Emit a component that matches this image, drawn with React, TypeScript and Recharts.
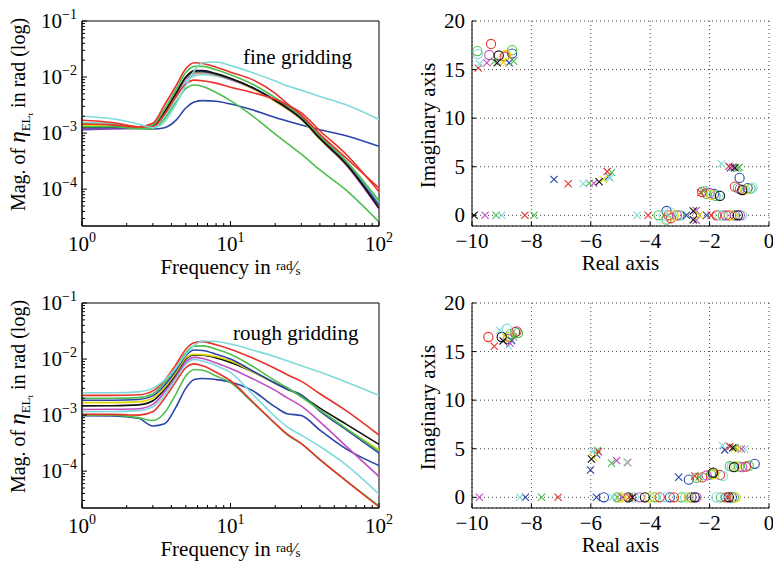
import React from 'react';
import {
  LineChart,
  Line,
  XAxis,
  YAxis,
  ReferenceArea,
  ScatterChart,
  Scatter,
  CartesianGrid,
} from 'recharts';

const SERIF = '"Liberation Serif", "Times New Roman", Times, serif';

// MATLAB-ish colour order, one letter per system
const CLR: Record<string, string> = {
  b: '#2a44aa',
  g: '#4cbf4c',
  r: '#e8322a',
  c: '#7fdada',
  m: '#c24cc2',
  y: '#e3d600',
  k: '#111111',
};
const sysOrder = ['b', 'g', 'r', 'c', 'm', 'y', 'k'];

// ---------- Bode magnitude data ----------
const freq = [1, 1.6, 2.4, 3, 3.6, 4.3, 5, 5.7, 6.5, 8, 10, 14, 20, 24, 30, 40, 60, 100];

// fine gridding
const fineC1 = [2.0e-3, 1.8e-3, 1.45e-3, 1.25e-3, 1.6e-3, 3.3e-3, 7e-3, 1.3e-2, 1.8e-2, 1.85e-2, 1.6e-2, 1.2e-2, 8.5e-3, 7e-3, 5.8e-3, 4.5e-3, 3.2e-3, 1.75e-3];
const fineB1 = [1.15e-3, 1.2e-3, 1.22e-3, 1.18e-3, 1.25e-3, 1.7e-3, 2.8e-3, 3.6e-3, 3.8e-3, 3.7e-3, 3.3e-3, 2.6e-3, 1.9e-3, 1.65e-3, 1.4e-3, 1.15e-3, 9e-4, 5.8e-4];
const fineR1 = [1.7e-3, 1.55e-3, 1.3e-3, 1.5e-3, 3.2e-3, 7e-3, 1.4e-2, 1.8e-2, 1.75e-2, 1.5e-2, 1.22e-2, 9e-3, 5.1e-3, 3.4e-3, 2.1e-3, 9.6e-4, 3.6e-4, 1.04e-4];
const fineR2 = [1.45e-3, 1.4e-3, 1.25e-3, 1.3e-3, 2.2e-3, 4.5e-3, 7.5e-3, 8.8e-3, 8.6e-3, 7.8e-3, 6.6e-3, 5.3e-3, 4.0e-3, 3.2e-3, 2.3e-3, 1.1e-3, 4.2e-4, 9e-5];
const fineG1 = [1.3e-3, 1.3e-3, 1.2e-3, 1.2e-3, 1.8e-3, 3.6e-3, 6.2e-3, 7.2e-3, 6.8e-3, 5.3e-3, 3.8e-3, 2.05e-3, 9.6e-4, 6.6e-4, 4.2e-4, 2.2e-4, 9.6e-5, 2.6e-5];
const fineG2 = [1.45e-3, 1.4e-3, 1.25e-3, 1.4e-3, 2.7e-3, 6e-3, 1.2e-2, 1.55e-2, 1.55e-2, 1.35e-2, 1.1e-2, 7.5e-3, 4.3e-3, 3.1e-3, 2e-3, 9e-4, 3.2e-4, 6.2e-5];
const fineK = [1.3e-3, 1.3e-3, 1.25e-3, 1.35e-3, 2.4e-3, 5.2e-3, 1e-2, 1.3e-2, 1.3e-2, 1.15e-2, 9.5e-3, 6.5e-3, 3.8e-3, 2.8e-3, 1.8e-3, 8e-4, 2.8e-4, 4.6e-5];
const fineB2 = [1.25e-3, 1.25e-3, 1.22e-3, 1.32e-3, 2.3e-3, 5e-3, 9.8e-3, 1.25e-2, 1.25e-2, 1.12e-2, 9.3e-3, 6.5e-3, 3.9e-3, 2.9e-3, 1.85e-3, 8.3e-4, 2.9e-4, 5.2e-5];
const fineM = [1.2e-3, 1.2e-3, 1.2e-3, 1.3e-3, 2.2e-3, 4.8e-3, 9.2e-3, 1.15e-2, 1.2e-2, 1.1e-2, 9e-3, 6.3e-3, 3.7e-3, 2.7e-3, 1.75e-3, 7.8e-4, 2.7e-4, 4.4e-5];
const fineY = [1.35e-3, 1.33e-3, 1.27e-3, 1.35e-3, 2.3e-3, 5e-3, 9.6e-3, 1.2e-2, 1.22e-2, 1.1e-2, 9.2e-3, 6.3e-3, 3.7e-3, 2.7e-3, 1.75e-3, 7.8e-4, 2.8e-4, 4.8e-5];
const fineC2 = [1.55e-3, 1.5e-3, 1.3e-3, 1.3e-3, 2e-3, 4.2e-3, 8.2e-3, 1.05e-2, 1.1e-2, 1.05e-2, 9e-3, 6.5e-3, 3.9e-3, 2.9e-3, 1.9e-3, 8.5e-4, 3e-4, 5.5e-5];

// rough gridding
const roughC1 = [2.5e-3, 2.5e-3, 2.6e-3, 3.0e-3, 4.2e-3, 7e-3, 1.2e-2, 1.75e-2, 2.1e-2, 2.05e-2, 1.85e-2, 1.45e-2, 1.1e-2, 9.3e-3, 7.6e-3, 5.9e-3, 3.9e-3, 2.25e-3];
const roughR1 = [2.25e-3, 2.25e-3, 2.3e-3, 2.7e-3, 4.2e-3, 8e-3, 1.5e-2, 1.95e-2, 2.05e-2, 1.8e-2, 1.5e-2, 1.05e-2, 6.8e-3, 5.3e-3, 4e-3, 2.4e-3, 1.2e-3, 4.4e-4];
const roughG1 = [2.0e-3, 2.0e-3, 2.05e-3, 2.4e-3, 3.8e-3, 7e-3, 1.3e-2, 1.7e-2, 1.72e-2, 1.5e-2, 1.22e-2, 7.5e-3, 4.1e-3, 3.1e-3, 2.1e-3, 1.23e-3, 5.8e-4, 2.25e-4];
const roughB1 = [1.84e-3, 1.84e-3, 1.9e-3, 2.2e-3, 3.4e-3, 6.3e-3, 1.15e-2, 1.45e-2, 1.42e-2, 1.22e-2, 1e-2, 6.2e-3, 3.7e-3, 2.9e-3, 2.3e-3, 1.18e-3, 5.5e-4, 2.1e-4];
const roughY = [1.67e-3, 1.67e-3, 1.72e-3, 2e-3, 3.1e-3, 5.8e-3, 1.05e-2, 1.22e-2, 1.2e-2, 1.1e-2, 9.3e-3, 6e-3, 3.7e-3, 2.9e-3, 2.3e-3, 1.2e-3, 5.7e-4, 2.4e-4];
const roughK = [1.46e-3, 1.47e-3, 1.52e-3, 1.8e-3, 2.9e-3, 5.5e-3, 1e-2, 1.18e-2, 1.17e-2, 1.05e-2, 8.7e-3, 6e-3, 3.7e-3, 2.95e-3, 2.2e-3, 1.33e-3, 6.9e-4, 3e-4];
const roughM = [1.26e-3, 1.27e-3, 1.3e-3, 1.55e-3, 2.6e-3, 5e-3, 8.8e-3, 1.07e-2, 1.02e-2, 8.5e-3, 6.8e-3, 4.5e-3, 2.76e-3, 2.05e-3, 1.44e-3, 7.6e-4, 2.8e-4, 8e-5];
const roughC2 = [1.15e-3, 1.16e-3, 1.2e-3, 1.4e-3, 2.3e-3, 4.5e-3, 8e-3, 9.8e-3, 9.2e-3, 7.6e-3, 5.8e-3, 2.4e-3, 9.4e-4, 6.2e-4, 4.4e-4, 2.75e-4, 1.3e-4, 3.9e-5];
const roughR2 = [1.03e-3, 1.03e-3, 1.0e-3, 1.15e-3, 2e-3, 4e-3, 7e-3, 8.2e-3, 7.6e-3, 5.8e-3, 4.1e-3, 1.76e-3, 7.1e-4, 4.6e-4, 3.1e-4, 1.6e-4, 6.7e-5, 2.3e-5];
const roughG2 = [1e-3, 1e-3, 9e-4, 8e-4, 1.1e-3, 2.4e-3, 5e-3, 6.5e-3, 6.3e-3, 5e-3, 3.8e-3, 1.7e-3, 7e-4, 4.5e-4, 3.1e-4, 1.6e-4, 6.8e-5, 2.4e-5];
const roughB2 = [9.8e-4, 9.7e-4, 8.8e-4, 6.4e-4, 7e-4, 1.4e-3, 3e-3, 4.3e-3, 4.5e-3, 4.3e-3, 3.9e-3, 2.76e-3, 1.4e-3, 1.06e-3, 9.8e-4, 5.4e-4, 2.5e-4, 1.26e-4];

// ---------- pole / zero data: [real, imag, system] ----------
type PZ = [number, number, string];

const finePoles: PZ[] = [
  [-9.79, 15.15, 'r'], [-9.75, 15.6, 'c'], [-9.5, 15.7, 'm'], [-9.25, 15.85, 'g'],
  [-9.15, 15.7, 'k'], [-8.95, 15.75, 'y'], [-8.75, 15.7, 'b'], [-8.6, 15.85, 'g'],
  [-7.24, 3.7, 'b'], [-6.76, 3.25, 'r'], [-6.26, 3.25, 'c'], [-6.05, 3.3, 'g'],
  [-5.9, 3.3, 'm'], [-5.72, 3.45, 'k'], [-5.58, 3.7, 'y'], [-5.4, 4.0, 'b'],
  [-5.35, 3.85, 'c'], [-5.45, 4.5, 'r'], [-5.3, 4.4, 'g'],
  [-9.93, 0, 'k'], [-9.56, 0, 'm'], [-9.19, 0, 'g'], [-9.0, 0, 'c'], [-8.22, 0, 'r'], [-7.91, 0, 'g'],
  [-4.44, 0, 'c'], [-4.07, 0, 'r'],
  [-2.78, 0, 'b'], [-2.55, 0.45, 'k'], [-2.55, -0.45, 'k'], [-2.45, 0.5, 'm'], [-2.45, -0.5, 'm'],
  [-2.35, 0, 'y'], [-2.1, 0, 'b'], [-1.95, 0, 'r'],
  [-2.3, 2.35, 'r'], [-2.2, 2.5, 'g'],
  [-1.6, 5.3, 'c'], [-1.35, 5.05, 'r'], [-1.3, 4.9, 'b'], [-1.22, 4.95, 'm'],
  [-1.15, 4.9, 'k'], [-1.05, 4.85, 'g'], [-1.0, 4.95, 'g'],
];

const fineZeros: PZ[] = [
  [-9.82, 16.9, 'g'], [-9.8, 16.6, 'c'], [-9.36, 17.64, 'r'], [-9.42, 16.5, 'm'],
  [-9.1, 16.45, 'k'], [-8.85, 16.5, 'y'], [-8.9, 16.35, 'r'], [-8.65, 16.65, 'b'], [-8.65, 17.0, 'g'],
  [-3.72, 0, 'g'], [-3.55, 0, 'c'], [-3.45, 0.45, 'b'], [-3.45, -0.45, 'g'], [-3.38, 0, 'r'],
  [-3.32, 0.3, 'c'], [-3.3, -0.3, 'r'], [-3.2, 0, 'y'], [-3.1, 0, 'm'], [-3.02, 0, 'g'], [-2.95, 0, 'c'],
  [-1.77, 0, 'r'], [-1.66, 0, 'c'], [-1.55, 0, 'g'], [-1.45, 0, 'm'], [-1.35, 0, 'r'],
  [-1.25, 0, 'y'], [-1.15, 0, 'b'], [-1.05, 0, 'k'], [-0.98, 0, 'm'], [-0.9, 0, 'c'],
  [-2.25, 2.4, 'r'], [-2.15, 2.5, 'c'], [-2.1, 2.2, 'g'], [-2.0, 2.3, 'm'], [-1.95, 2.1, 'y'],
  [-1.85, 2.2, 'b'], [-1.8, 2.0, 'g'], [-1.7, 2.1, 'c'], [-1.65, 2.0, 'k'],
  [-1.15, 2.95, 'r'], [-1.05, 2.8, 'g'], [-0.98, 2.7, 'm'], [-0.9, 2.6, 'k'], [-0.8, 2.65, 'y'],
  [-0.72, 2.8, 'b'], [-0.62, 2.75, 'g'], [-0.55, 2.85, 'c'], [-0.99, 3.85, 'b'],
];

const roughPoles: PZ[] = [
  [-9.25, 15.55, 'r'], [-9.06, 17.2, 'c'], [-8.95, 16.1, 'k'], [-8.78, 15.6, 'c'],
  [-8.72, 15.85, 'm'], [-8.67, 16.15, 'b'], [-8.85, 16.4, 'y'], [-8.6, 16.5, 'g'],
  [-6.01, 2.82, 'b'], [-5.98, 3.95, 'k'], [-5.92, 4.12, 'y'], [-5.92, 4.74, 'c'],
  [-5.78, 4.81, 'g'], [-5.75, 4.7, 'r'], [-5.8, 4.4, 'b'], [-5.3, 3.5, 'g'],
  [-5.13, 3.78, 'm'], [-4.78, 3.61, 'c'], [-4.76, 3.58, 'r'],
  [-9.75, 0, 'm'], [-8.39, 0, 'c'], [-8.2, 0, 'b'], [-7.66, 0, 'g'], [-7.1, 0, 'r'], [-5.81, 0, 'b'],
  [-5.28, 0, 'c'], [-5.1, 0, 'g'], [-4.95, 0, 'm'], [-4.85, 0, 'y'], [-4.7, 0, 'r'], [-4.6, 0, 'k'],
  [-1.5, 0, 'c'], [-1.4, 0, 'r'],
  [-3.04, 2.06, 'b'], [-2.5, 2.2, 'r'], [-2.35, 2.1, 'g'],
  [-1.57, 5.33, 'c'], [-1.49, 4.88, 'b'], [-1.32, 5.22, 'r'], [-1.22, 5.1, 'k'],
  [-1.15, 5.09, 'g'], [-1.05, 5.0, 'y'], [-0.93, 4.98, 'm'], [-0.82, 4.98, 'c'],
];

const roughZeros: PZ[] = [
  [-9.45, 16.5, 'r'], [-9.0, 16.5, 'k'], [-8.83, 17.35, 'c'], [-8.78, 16.5, 'y'],
  [-8.8, 16.3, 'm'], [-8.5, 17.08, 'r'], [-8.45, 16.9, 'g'], [-8.55, 17.0, 'b'], [-8.7, 16.8, 'g'],
  [-5.56, 0, 'b'], [-5.11, 0, 'g'], [-4.98, 0, 'y'], [-4.74, 0, 'k'], [-4.55, 0, 'c'],
  [-4.35, 0, 'm'], [-4.18, 0, 'k'], [-4.02, 0, 'y'], [-3.85, 0, 'g'], [-3.68, 0, 'r'],
  [-3.51, 0, 'c'], [-3.34, 0, 'b'], [-3.2, 0, 'r'], [-2.95, 0, 'g'], [-2.82, 0, 'c'],
  [-2.7, 0, 'y'], [-2.61, 0, 'b'], [-2.5, 0, 'k'], [-2.44, 0, 'm'],
  [-1.77, 0, 'c'], [-1.62, 0, 'g'], [-1.45, 0, 'r'], [-1.35, 0, 'k'], [-1.25, 0, 'b'],
  [-1.18, 0, 'g'], [-1.12, 0, 'y'],
  [-2.7, 1.82, 'b'], [-2.44, 2.0, 'g'], [-2.25, 2.05, 'r'], [-2.1, 2.25, 'm'], [-1.95, 2.35, 'g'],
  [-1.88, 2.55, 'k'], [-1.85, 2.4, 'y'], [-1.9, 2.45, 'b'], [-1.65, 2.3, 'r'], [-1.55, 2.2, 'c'],
  [-1.32, 3.2, 'g'], [-1.25, 3.15, 'c'], [-1.18, 3.1, 'k'], [-1.12, 3.2, 'y'], [-1.0, 3.15, 'g'],
  [-0.9, 3.1, 'm'], [-0.78, 3.15, 'r'], [-0.68, 3.25, 'g'], [-0.48, 3.45, 'b'],
];

// ---------- axes ----------
const MAG_MIN = 2.2e-5;
const MAG_MAX = 0.1;
const freqDecades = [1, 10, 100];
const magDecades = [1e-4, 1e-3, 1e-2, 1e-1];
const reTicks = [-10, -8, -6, -4, -2, 0];
const imTicks = [0, 5, 10, 15, 20];

// decade ticks plus the 2..9 minors that MATLAB draws between them
const withMinors = (decades: number[], lo: number, hi: number) => {
  const out: number[] = [];
  const e0 = Math.floor(Math.log10(lo));
  const e1 = Math.ceil(Math.log10(hi));
  for (let e = e0; e <= e1; e++) {
    for (let m = 1; m < 10; m++) {
      const v = Number((m * Math.pow(10, e)).toPrecision(6));
      if (v >= lo * 0.999 && v <= hi * 1.001) out.push(v);
    }
  }
  return Array.from(new Set([...out, ...decades])).sort((a, b) => a - b);
};
const freqTicks = withMinors(freqDecades, 1, 100);
const magTicks = withMinors(magDecades, MAG_MIN, MAG_MAX);

const isDecade = (v: number) => {
  const l = Math.log10(v);
  return Math.abs(l - Math.round(l)) < 1e-6;
};
const minus = (n: number) => (n < 0 ? '\u2212' + Math.abs(n) : String(n));

function LogXTick({ x, y, payload }: any) {
  const major = isDecade(payload.value);
  const e = Math.round(Math.log10(payload.value));
  return (
    <g>
      <line x1={x} x2={x} y1={y} y2={y - (major ? 5 : 3)} stroke="#000" />
      {major && (
        <text x={x} y={y + 25} textAnchor="middle" fontFamily={SERIF} fontSize={21} fill="#000">
          10<tspan dy={-9} fontSize={14}>{minus(e)}</tspan>
        </text>
      )}
    </g>
  );
}

function LogYTick({ x, y, payload }: any) {
  const major = isDecade(payload.value);
  const e = Math.round(Math.log10(payload.value));
  return (
    <g>
      <line x1={x} x2={x + (major ? 5 : 3)} y1={y} y2={y} stroke="#000" />
      {major && (
        <text x={x - 5} y={y + 7} textAnchor="end" fontFamily={SERIF} fontSize={21} fill="#000">
          10<tspan dy={-9} fontSize={14}>{minus(e)}</tspan>
        </text>
      )}
    </g>
  );
}

function LinXTick({ x, y, payload }: any) {
  return (
    <g>
      <line x1={x} x2={x} y1={y} y2={y - 4} stroke="#000" />
      <text x={x} y={y + 22} textAnchor="middle" fontFamily={SERIF} fontSize={21} fill="#000">
        {minus(payload.value)}
      </text>
    </g>
  );
}

function LinYTick({ x, y, payload }: any) {
  return (
    <g>
      <line x1={x} x2={x + 4} y1={y} y2={y} stroke="#000" />
      <text x={x - 7} y={y + 7} textAnchor="end" fontFamily={SERIF} fontSize={21} fill="#000">
        {minus(payload.value)}
      </text>
    </g>
  );
}

const freqLabel = ({ viewBox }: any) => (
  <text x={viewBox.x + viewBox.width / 2} y={viewBox.y + 48} textAnchor="middle" fontFamily={SERIF} fontSize={21} fill="#000">
    Frequency in{' '}
    <tspan fontSize={13} dy={-4}>rad</tspan>
    <tspan fontSize={18} dy={4}>{'\u2044'}</tspan>
    <tspan fontSize={13} dy={1}>s</tspan>
  </text>
);

const magLabel = ({ viewBox }: any) => {
  const cx = 25;
  const cy = viewBox.y + viewBox.height / 2 - 9;
  return (
    <text x={cx} y={cy} transform={`rotate(-90 ${cx} ${cy})`} textAnchor="middle" fontFamily={SERIF} fontSize={20} fill="#000">
      Mag. of <tspan fontStyle="italic" fontSize={23}>η</tspan>
      <tspan fontSize={13} dy={5}>EL</tspan>
      <tspan fontSize={9} dy={3}>t</tspan>
      <tspan dy={-8}> in rad (log)</tspan>
    </text>
  );
};

const realLabel = ({ viewBox }: any) => (
  <text x={viewBox.x + viewBox.width / 2} y={viewBox.y + 44} textAnchor="middle" fontFamily={SERIF} fontSize={21} fill="#000">
    Real axis
  </text>
);

const imagLabel = ({ viewBox }: any) => {
  const cx = viewBox.x + viewBox.width - 37;
  const cy = viewBox.y + viewBox.height / 2 + 2;
  return (
    <text x={cx} y={cy} transform={`rotate(-90 ${cx} ${cy})`} textAnchor="middle" fontFamily={SERIF} fontSize={21} fill="#000">
      Imaginary axis
    </text>
  );
};

type Curve = { key: string; values: number[]; sys: string };

const fineCurves: Curve[] = [
  { key: 'b1', values: fineB1, sys: 'b' },
  { key: 'c2', values: fineC2, sys: 'c' },
  { key: 'm', values: fineM, sys: 'm' },
  { key: 'y', values: fineY, sys: 'y' },
  { key: 'b2', values: fineB2, sys: 'b' },
  { key: 'k', values: fineK, sys: 'k' },
  { key: 'g2', values: fineG2, sys: 'g' },
  { key: 'r2', values: fineR2, sys: 'r' },
  { key: 'g1', values: fineG1, sys: 'g' },
  { key: 'r1', values: fineR1, sys: 'r' },
  { key: 'c1', values: fineC1, sys: 'c' },
];

const roughCurves: Curve[] = [
  { key: 'b2', values: roughB2, sys: 'b' },
  { key: 'g2', values: roughG2, sys: 'g' },
  { key: 'r2', values: roughR2, sys: 'r' },
  { key: 'c2', values: roughC2, sys: 'c' },
  { key: 'm', values: roughM, sys: 'm' },
  { key: 'k', values: roughK, sys: 'k' },
  { key: 'y', values: roughY, sys: 'y' },
  { key: 'b1', values: roughB1, sys: 'b' },
  { key: 'g1', values: roughG1, sys: 'g' },
  { key: 'r1', values: roughR1, sys: 'r' },
  { key: 'c1', values: roughC1, sys: 'c' },
];

// left charts are drawn wider than their column so the 10^2 label is not clipped
const W_L = 410;
const LEFT_COL = 386;
const W_R = 387;
const H = 282;

function BodePanel({ curves, note, noteX, noteY, top }: { curves: Curve[]; note: string; noteX: number; noteY: number; top: number }) {
  const rows = freq.map((f, i) => {
    const row: Record<string, number> = { f };
    curves.forEach((c) => {
      row[c.key] = c.values[i];
    });
    return row;
  });
  const noteLabel = ({ viewBox }: any) => (
    <text x={viewBox.x + noteX} y={viewBox.y + noteY} fontFamily={SERIF} fontSize={21} fill="#000">
      {note}
    </text>
  );
  return (
    <div style={{ position: 'absolute', left: 0, top, width: W_L, height: H }}>
      <LineChart width={W_L} height={H} data={rows} margin={{ top: 21, right: W_L - 379, bottom: 0, left: 0 }}>
        <XAxis
          dataKey="f"
          type="number"
          scale="log"
          domain={[1, 100]}
          allowDataOverflow
          ticks={freqTicks}
          interval={0}
          tickSize={0}
          tickMargin={0}
          tickLine={false}
          tick={LogXTick}
          axisLine={{ stroke: '#000' }}
          height={56}
          label={freqLabel}
        />
        <YAxis
          type="number"
          scale="log"
          domain={[MAG_MIN, MAG_MAX]}
          allowDataOverflow
          ticks={magTicks}
          interval={0}
          tickSize={0}
          tickMargin={0}
          tickLine={false}
          tick={LogYTick}
          axisLine={{ stroke: '#000' }}
          width={82}
          label={magLabel}
        />
        {curves.map((c) => (
          <Line
            key={c.key}
            dataKey={c.key}
            type="monotone"
            stroke={CLR[c.sys]}
            strokeWidth={1.6}
            dot={false}
            isAnimationActive={false}
          />
        ))}
        <ReferenceArea
          x1={1}
          x2={100}
          y1={MAG_MIN}
          y2={MAG_MAX}
          fill="none"
          fillOpacity={0}
          stroke="#000"
          strokeWidth={1}
          ifOverflow="visible"
          label={noteLabel}
        />
      </LineChart>
    </div>
  );
}

const crossShape = (color: string) => (p: any) => {
  const { cx, cy } = p;
  const s = 3.6;
  return (
    <path
      d={`M${cx - s},${cy - s}L${cx + s},${cy + s}M${cx - s},${cy + s}L${cx + s},${cy - s}`}
      stroke={color}
      strokeWidth={1.1}
      fill="none"
    />
  );
};
const ringShape = (color: string) => (p: any) => (
  <circle cx={p.cx} cy={p.cy} r={4.6} stroke={color} strokeWidth={1.1} fill="none" />
);

const toPts = (arr: PZ[], sys: string) =>
  arr.filter((p) => p[2] === sys).map(([re, im]) => ({ re, im }));

function PzPanel({ poles, zeros, top }: { poles: PZ[]; zeros: PZ[]; top: number }) {
  return (
    <div style={{ position: 'absolute', left: LEFT_COL, top, width: W_R, height: H }}>
      <ScatterChart width={W_R} height={H} margin={{ top: 21, right: 4, bottom: 0, left: 0 }}>
        <CartesianGrid stroke="#444" strokeDasharray="1 3" />
        <XAxis
          dataKey="re"
          type="number"
          domain={[-10, 0]}
          allowDataOverflow
          ticks={reTicks}
          interval={0}
          tickSize={0}
          tickMargin={0}
          tickLine={false}
          tick={LinXTick}
          axisLine={{ stroke: '#000' }}
          height={56}
          label={realLabel}
        />
        <YAxis
          dataKey="im"
          type="number"
          domain={[-1.1, 20]}
          allowDataOverflow
          ticks={imTicks}
          interval={0}
          tickSize={0}
          tickMargin={0}
          tickLine={false}
          tick={LinYTick}
          axisLine={{ stroke: '#000' }}
          width={86}
          label={imagLabel}
        />
        {sysOrder.map((s) => (
          <Scatter key={'z' + s} data={toPts(zeros, s)} shape={ringShape(CLR[s])} isAnimationActive={false} />
        ))}
        {sysOrder.map((s) => (
          <Scatter key={'p' + s} data={toPts(poles, s)} shape={crossShape(CLR[s])} isAnimationActive={false} />
        ))}
      </ScatterChart>
    </div>
  );
}

export default function App() {
  return (
    <div style={{ position: 'absolute', left: 0, top: 0, width: 773, height: 563, background: '#fff', overflow: 'hidden' }}>
      <BodePanel curves={fineCurves} note="fine gridding" noteX={161} noteY={43} top={0} />
      <BodePanel curves={roughCurves} note="rough gridding" noteX={151} noteY={37} top={282} />
      <PzPanel poles={finePoles} zeros={fineZeros} top={0} />
      <PzPanel poles={roughPoles} zeros={roughZeros} top={282} />
    </div>
  );
}
